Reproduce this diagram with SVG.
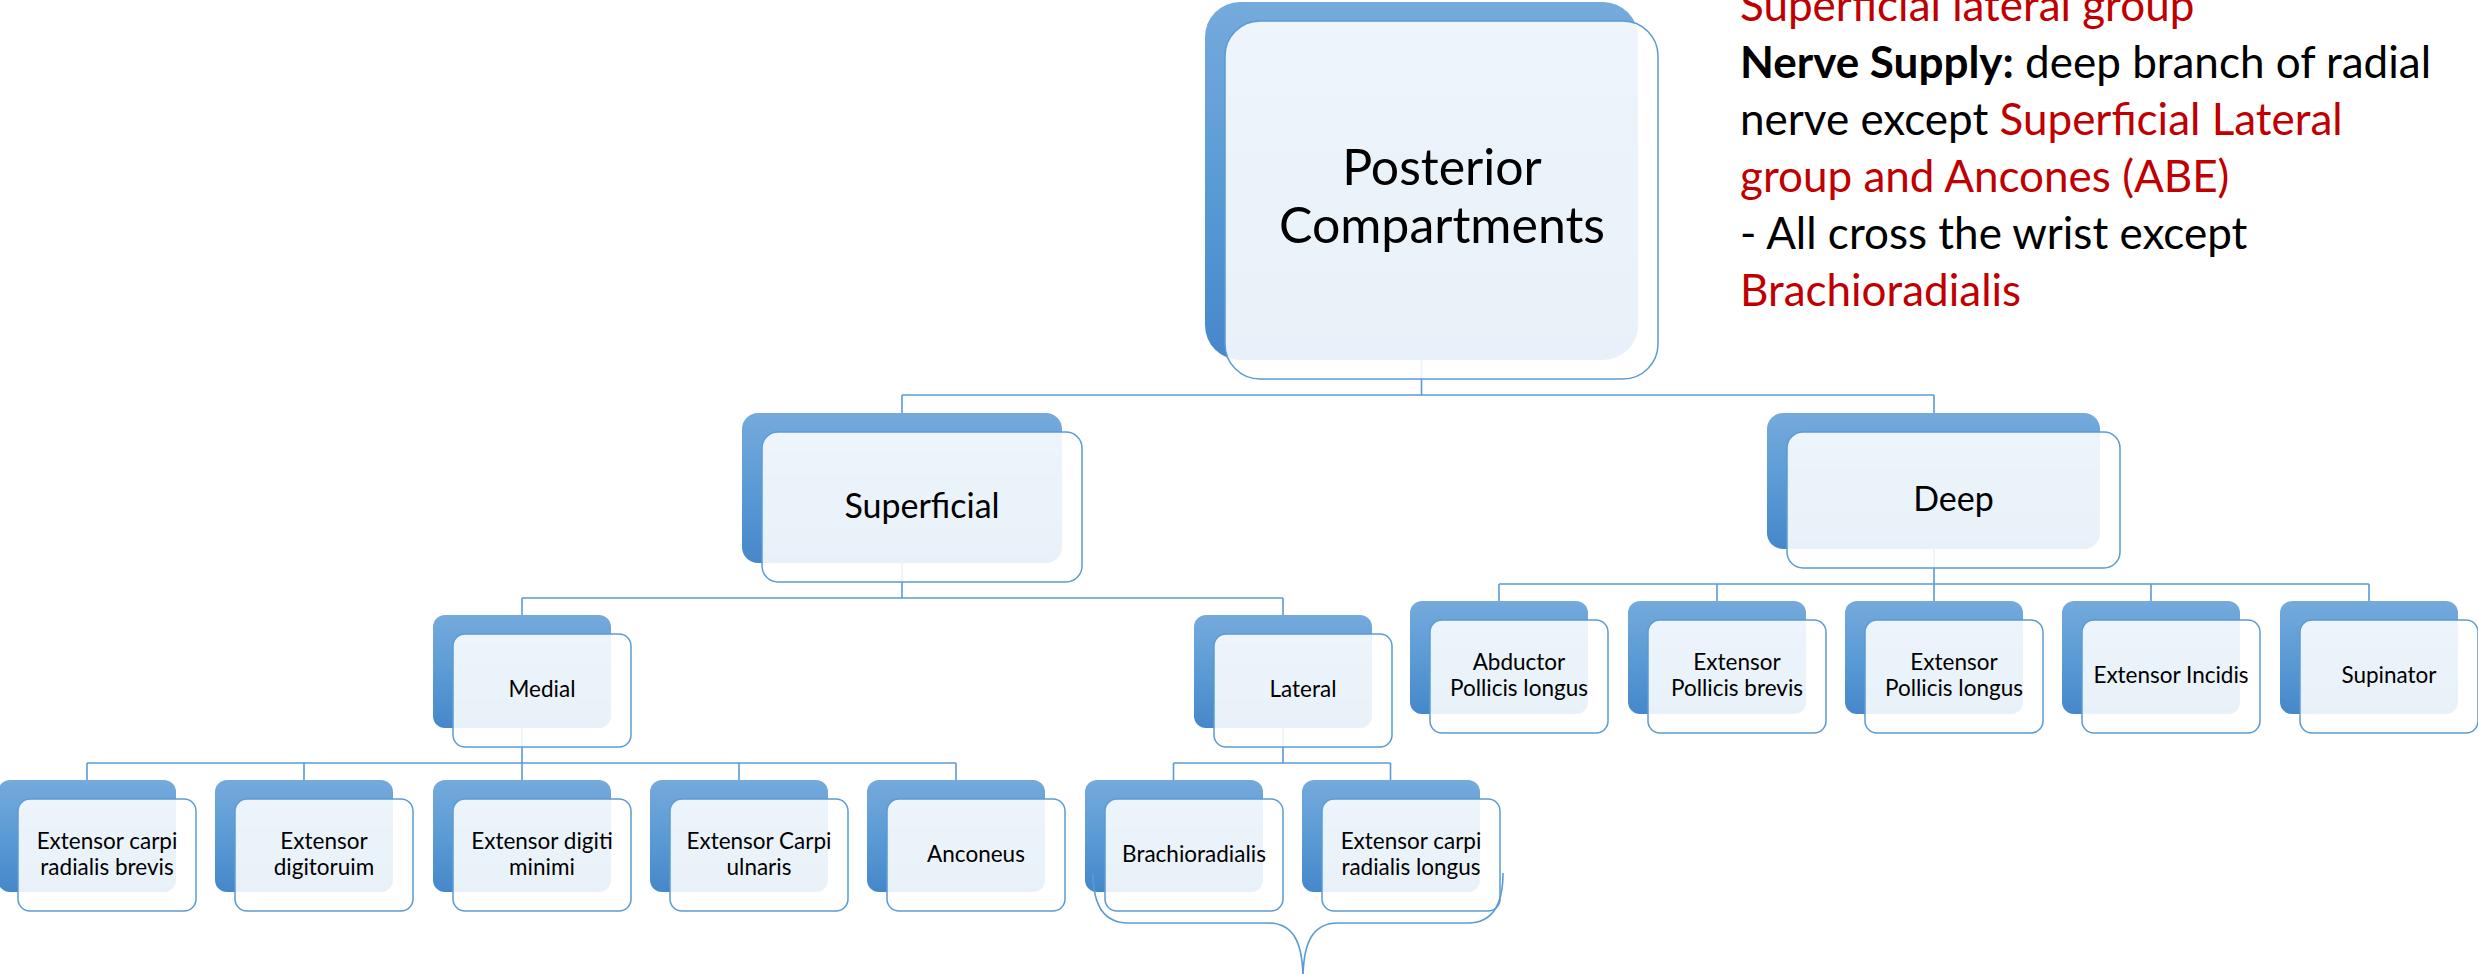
<svg xmlns="http://www.w3.org/2000/svg" width="2478" height="974" viewBox="0 0 2478 974">
<defs>
<linearGradient id="g" x1="0" y1="0" x2="0" y2="1">
<stop offset="0" stop-color="#75AADC"/>
<stop offset="0.5" stop-color="#5B9BD5"/>
<stop offset="1" stop-color="#4587CA"/>
</linearGradient>
<style>
.b{fill:url(#g);stroke:none}
.f{fill:#FFFFFF;fill-opacity:0.88;stroke:#5B9BD5;stroke-width:1.5}
.c{fill:none;stroke:#5B9BD5;stroke-width:1.6}
text{font-family:Lato,'Open Sans',sans-serif;fill:#000;text-anchor:middle}
.t0{font-size:50px}
.t1{font-size:34px}
.t2{font-size:22.5px}
.side{font-size:44px;text-anchor:start}
.red{fill:#C00000}
.bold{font-weight:bold}
</style>
</defs>
<rect width="2478" height="974" fill="#FFFFFF"/>
<g id="connectors">
<path class="c" d="M1421.5,358V395M902,395H1934M902,395V413M1934,395V413"/>
<path class="c" d="M902,563V598M522,598H1283M522,598V615M1283,598V615"/>
<path class="c" d="M522,728V763M87,763H956M87,763V780M304,763V780M522,763V780M739,763V780M956,763V780"/>
<path class="c" d="M1283,728V763M1173.5,763H1390.5M1173.5,763V780M1390.5,763V780"/>
<path class="c" d="M1934,549V584M1499,584H2369M1499,584V601M1717,584V601M1934,584V601M2151,584V601M2369,584V601"/>
</g>
<g id="n-top">
<rect class="b" x="1205" y="2" width="433" height="358" rx="35"/>
<rect class="f" x="1225" y="21" width="433" height="358" rx="35"/>
<text class="t0" x="1442" y="185">Posterior</text>
<text class="t0" x="1442" y="243">Compartments</text>
</g>
<g id="n-superficial">
<rect class="b" x="742" y="413" width="320" height="150" rx="16"/>
<rect class="f" x="762" y="432" width="320" height="150" rx="16"/>
<text class="t1" x="922" y="518">Superficial</text>
</g>
<g id="n-deep">
<rect class="b" x="1767" y="413" width="333" height="136" rx="16"/>
<rect class="f" x="1787" y="432" width="333" height="136" rx="16"/>
<text class="t1" x="1953.5" y="511">Deep</text>
</g>
<g id="n-medial">
<rect class="b" x="433" y="615" width="178" height="113" rx="12"/>
<rect class="f" x="453" y="634" width="178" height="113" rx="12"/>
<text class="t2" x="542" y="697">Medial</text>
</g>
<g id="n-lateral">
<rect class="b" x="1194" y="615" width="178" height="113" rx="12"/>
<rect class="f" x="1214" y="634" width="178" height="113" rx="12"/>
<text class="t2" x="1303" y="697">Lateral</text>
</g>
<g id="n-ecrb">
<rect class="b" x="-2" y="780" width="178" height="112" rx="12"/>
<rect class="f" x="18" y="799" width="178" height="112" rx="12"/>
<text class="t2" x="107" y="849">Extensor carpi</text>
<text class="t2" x="107" y="875">radialis brevis</text>
</g>
<g id="n-ed">
<rect class="b" x="215" y="780" width="178" height="112" rx="12"/>
<rect class="f" x="235" y="799" width="178" height="112" rx="12"/>
<text class="t2" x="324" y="849">Extensor</text>
<text class="t2" x="324" y="875">digitoruim</text>
</g>
<g id="n-edm">
<rect class="b" x="433" y="780" width="178" height="112" rx="12"/>
<rect class="f" x="453" y="799" width="178" height="112" rx="12"/>
<text class="t2" x="542" y="849">Extensor digiti</text>
<text class="t2" x="542" y="875">minimi</text>
</g>
<g id="n-ecu">
<rect class="b" x="650" y="780" width="178" height="112" rx="12"/>
<rect class="f" x="670" y="799" width="178" height="112" rx="12"/>
<text class="t2" x="759" y="849">Extensor Carpi</text>
<text class="t2" x="759" y="875">ulnaris</text>
</g>
<g id="n-anconeus">
<rect class="b" x="867" y="780" width="178" height="112" rx="12"/>
<rect class="f" x="887" y="799" width="178" height="112" rx="12"/>
<text class="t2" x="976" y="862">Anconeus</text>
</g>
<g id="n-brachioradialis">
<rect class="b" x="1085" y="780" width="178" height="112" rx="12"/>
<rect class="f" x="1105" y="799" width="178" height="112" rx="12"/>
<text class="t2" x="1194" y="862">Brachioradialis</text>
</g>
<g id="n-ecrl">
<rect class="b" x="1302" y="780" width="178" height="112" rx="12"/>
<rect class="f" x="1322" y="799" width="178" height="112" rx="12"/>
<text class="t2" x="1411" y="849">Extensor carpi</text>
<text class="t2" x="1411" y="875">radialis longus</text>
</g>
<g id="n-apl">
<rect class="b" x="1410" y="601" width="178" height="113" rx="12"/>
<rect class="f" x="1430" y="620" width="178" height="113" rx="12"/>
<text class="t2" x="1519" y="670">Abductor</text>
<text class="t2" x="1519" y="696">Pollicis longus</text>
</g>
<g id="n-epb">
<rect class="b" x="1628" y="601" width="178" height="113" rx="12"/>
<rect class="f" x="1648" y="620" width="178" height="113" rx="12"/>
<text class="t2" x="1737" y="670">Extensor</text>
<text class="t2" x="1737" y="696">Pollicis brevis</text>
</g>
<g id="n-epl">
<rect class="b" x="1845" y="601" width="178" height="113" rx="12"/>
<rect class="f" x="1865" y="620" width="178" height="113" rx="12"/>
<text class="t2" x="1954" y="670">Extensor</text>
<text class="t2" x="1954" y="696">Pollicis longus</text>
</g>
<g id="n-ei">
<rect class="b" x="2062" y="601" width="178" height="113" rx="12"/>
<rect class="f" x="2082" y="620" width="178" height="113" rx="12"/>
<text class="t2" x="2171" y="683">Extensor Incidis</text>
</g>
<g id="n-supinator">
<rect class="b" x="2280" y="601" width="178" height="113" rx="12"/>
<rect class="f" x="2300" y="620" width="178" height="113" rx="12"/>
<text class="t2" x="2389" y="683">Supinator</text>
</g>
<g id="brace">
<path class="c" d="M1093,873C1093,905 1104,923 1128,923H1268C1292,923 1303,940 1303,980M1503,873C1503,905 1492,923 1468,923H1338C1314,923 1303,940 1303,980"/>
</g>
<g id="notes">
<text class="side red" x="1740" y="21">Superficial lateral group</text>
<text class="side" x="1740" y="78"><tspan class="bold">Nerve Supply:</tspan> deep branch of radial</text>
<text class="side" x="1740" y="135">nerve except <tspan class="red">Superficial Lateral</tspan></text>
<text class="side red" x="1740" y="192">group and Ancones (ABE)</text>
<text class="side" x="1740" y="249">- All cross the wrist except</text>
<text class="side red" x="1740" y="306">Brachioradialis</text>
</g>
</svg>
